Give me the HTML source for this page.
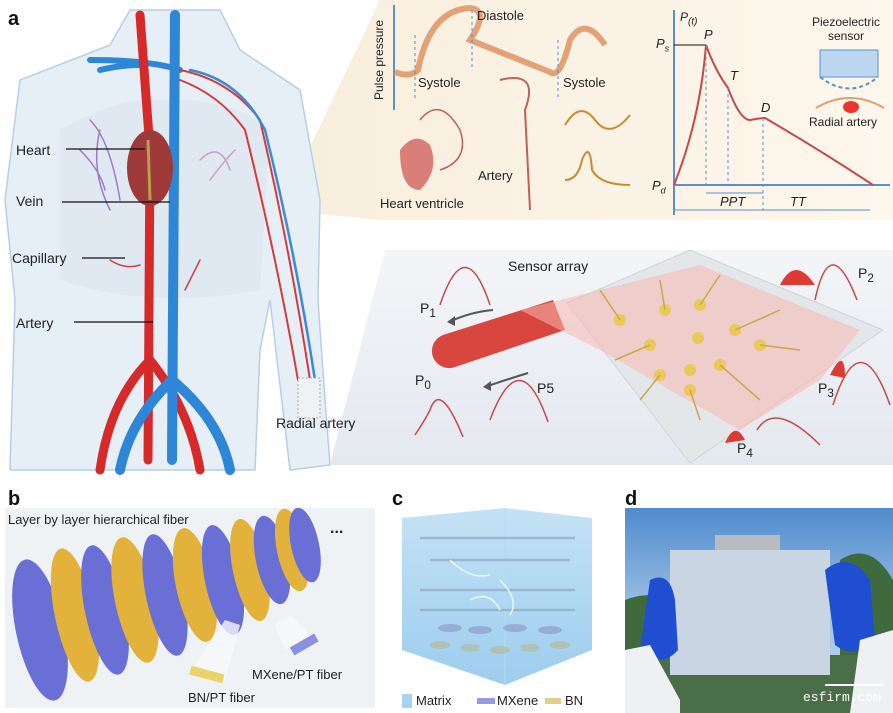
<!DOCTYPE html>
<html><head><style>
body{margin:0;background:#fff;width:893px;height:713px;overflow:hidden;position:relative;font-family:"Liberation Sans",sans-serif}
.t{position:absolute;color:#222;font-size:14px;white-space:nowrap}
.b{font-weight:bold;font-size:20px;color:#111}
</style></head><body>
<svg width="893" height="713" style="position:absolute;left:0;top:0">
<defs>
<linearGradient id="bg1" x1="0" y1="0" x2="1" y2="0"><stop offset="0" stop-color="#f7ecd9"/><stop offset="1" stop-color="#fdf6ea"/></linearGradient>
<linearGradient id="bg2" x1="0" y1="0" x2="0" y2="1"><stop offset="0" stop-color="#f4f5f8"/><stop offset="1" stop-color="#e4e8ef"/></linearGradient>
<linearGradient id="sky" x1="0" y1="0" x2="0" y2="1"><stop offset="0" stop-color="#4f8bcf"/><stop offset="0.5" stop-color="#9dc0e2"/><stop offset="1" stop-color="#c9dbeb"/></linearGradient>
<linearGradient id="cube" x1="0" y1="0" x2="0" y2="1"><stop offset="0" stop-color="#c4e2f5"/><stop offset="1" stop-color="#9dcdee"/></linearGradient>
</defs>
<path d="M280 210 L380 0 L893 0 L893 220 L380 220 Z" fill="url(#bg1)" opacity=".9"/>
<!-- body -->
<g fill="#e6eef6" stroke="#b7cfe6" stroke-width="1.5">
<path d="M10 470 L15 300 L5 200 L20 80 L110 45 L130 10 L220 10 L240 50 L300 90 L320 200 L318 300 L325 400 L330 465 L290 470 L270 300 L260 350 L255 470 Z"/>
</g>
<path d="M60 130 Q110 100 150 100 Q230 95 270 130 L260 290 Q150 310 60 280Z" fill="#dde7f0" opacity=".7"/>
<g fill="none" stroke-linecap="round">
<path d="M90 60 Q150 60 180 70 M100 70 Q120 65 140 65" stroke="#2d86d6" stroke-width="6"/>
<path d="M140 15 L150 150 L148 460 M150 360 Q110 400 100 470 M150 360 Q190 410 200 470" stroke="#d62a2a" stroke-width="9"/>
<path d="M175 15 L172 460 M172 380 Q130 420 120 470 M172 380 Q220 420 230 470" stroke="#2d86d6" stroke-width="10"/>
<path d="M180 70 Q230 80 260 120 Q290 250 310 380 M180 80 Q220 95 245 130 Q275 250 298 380" stroke="#d63a3a" stroke-width="2"/>
<path d="M190 70 Q240 80 265 130 Q295 250 315 380" stroke="#3a8ad6" stroke-width="2.5"/>
<path d="M90 120 Q110 140 120 200 M100 130 Q90 170 110 210 M80 150 Q100 170 105 190" stroke="#9b79c8" stroke-width="1.5"/>
<path d="M200 160 Q220 140 230 170 M210 180 Q225 160 235 150" stroke="#c8a0c8" stroke-width="1.5"/>
<path d="M110 260 Q125 270 140 265 M200 260 Q190 280 185 290" stroke="#d04040" stroke-width="1.5"/>
</g>
<ellipse cx="150" cy="168" rx="23" ry="38" fill="#9e3a3a"/>
<path d="M148 140 L150 200" stroke="#b9a04a" stroke-width="3"/>
<g stroke="#111" stroke-width="1.2"><line x1="66" y1="149" x2="145" y2="149"/><line x1="62" y1="202" x2="170" y2="202"/><line x1="82" y1="258" x2="125" y2="258"/><line x1="74" y1="322" x2="153" y2="322"/></g>
<rect x="298" y="378" width="22" height="40" fill="#eef2f4" stroke="#aaa" stroke-dasharray="2 2"/>
<line x1="394" y1="110" x2="394" y2="5" stroke="#5b8fd0" stroke-width="2"/>
<path d="M395 72 Q410 78 418 70 Q430 10 470 8 Q490 10 470 40 Q520 60 550 72 Q560 80 570 40 Q585 15 605 45" stroke="#e3a276" stroke-width="6" fill="none"/>
<path d="M415 35 V100 M472 10 V70 M558 40 V100" stroke="#5b8fd0" stroke-dasharray="3 3"/>
<line x1="674" y1="215" x2="674" y2="10" stroke="#5b8fd0" stroke-width="2"/>
<line x1="674" y1="185" x2="890" y2="185" stroke="#5b8fd0" stroke-width="2"/>
<path d="M674 185 Q700 120 706 45 Q715 70 728 88 Q740 120 750 120 Q760 118 765 118 Q820 150 873 185" stroke="#c84848" stroke-width="2" fill="none"/>
<line x1="674" y1="45" x2="706" y2="45" stroke="#111"/>
<path d="M706 45 V185 M728 88 V185 M763 118 V210" stroke="#5b8fd0" stroke-dasharray="3 3" fill="none"/>
<line x1="706" y1="193" x2="763" y2="193" stroke="#5b8fd0"/><line x1="674" y1="210" x2="870" y2="210" stroke="#5b8fd0"/>
<rect x="820" y="50" width="58" height="27" fill="#bcd7ef" stroke="#5b8fd0"/>
<path d="M820 77 Q850 100 878 77" stroke="#5b8fd0" stroke-dasharray="4 3" fill="none" stroke-width="2"/>
<path d="M816 108 Q850 88 884 108" stroke="#e0a070" fill="none" stroke-width="2"/>
<ellipse cx="851" cy="107" rx="8" ry="6" fill="#e33"/>
<path d="M400 150 Q415 130 430 145 Q440 170 420 190 Q400 190 400 150Z" fill="#d88078"/>
<path d="M420 120 Q440 95 460 130 Q470 160 440 170" stroke="#c0605a" fill="none" stroke-width="1.5"/>
<path d="M500 80 Q540 70 525 110 L530 210" stroke="#c0605a" fill="none" stroke-width="2"/>
<path d="M565 125 Q580 100 595 120 Q610 140 630 115" stroke="#cf8a2a" stroke-width="2" fill="none"/>
<path d="M565 180 Q578 180 582 160 Q590 140 592 170 Q600 185 630 185" stroke="#cf8a2a" stroke-width="2" fill="none"/>
<!-- sensor panel -->
<path d="M330 465 L385 250 L893 250 L893 465 Z" fill="url(#bg2)"/>
<path d="M567 303 L690 250 L883 330 L690 463 Z" fill="#e4e7ea" stroke="#d0d4d8"/>
<path d="M780 285 Q795 255 815 285Z M830 375 Q845 345 845 378Z M725 443 Q735 420 745 440Z" fill="#dd3a35"/>
<path d="M443 335 L553 300 L565 330 L455 367 A16 16 0 0 1 443 335Z" fill="#d9453f"/>
<path d="M520 310 L700 265 L860 330 L820 380 L740 430 L600 350 Z" fill="#f5b8b0" opacity=".55"/>
<g fill="#e9c95a"><circle cx="620" cy="320" r="6"/><circle cx="665" cy="310" r="6"/><circle cx="700" cy="305" r="6"/><circle cx="650" cy="345" r="6"/><circle cx="698" cy="338" r="6"/><circle cx="735" cy="330" r="6"/><circle cx="760" cy="345" r="6"/><circle cx="690" cy="370" r="6"/><circle cx="720" cy="365" r="6"/><circle cx="660" cy="375" r="6"/><circle cx="690" cy="390" r="6"/></g>
<g stroke="#c9a84a" stroke-width="1.5" fill="none"><path d="M620 320 L600 290 M665 310 L660 280 M700 305 L720 275 M735 330 L780 310 M760 345 L800 350 M720 365 L760 400 M690 390 L700 420 M660 375 L640 400 M650 345 L615 360"/></g>
<path d="M440 305 Q465 230 490 305 M815 300 Q830 230 857 300 M833 405 Q860 320 890 405 M757 430 Q775 400 820 445 M415 435 Q425 420 430 410 Q440 380 463 437 M490 420 Q520 340 548 422" stroke="#c84848" stroke-width="1.5" fill="none"/>
<path d="M493 310 Q470 312 449 322 M528 373 Q505 380 485 387" stroke="#555" stroke-width="2" fill="none"/>
<path d="M447 322 L455 316 L455 326Z M483 387 L491 381 L491 391Z" fill="#555"/>
<!-- panel b -->
<rect x="5" y="508" width="370" height="200" fill="#eef2f5"/>
<g>
<ellipse cx="40" cy="630" rx="24" ry="72" fill="#6a6fd6" transform="rotate(-12 40 630)"/>
<ellipse cx="75" cy="615" rx="20" ry="68" fill="#e2b23a" transform="rotate(-12 75 615)"/>
<ellipse cx="105" cy="610" rx="20" ry="66" fill="#6a6fd6" transform="rotate(-12 105 610)"/>
<ellipse cx="135" cy="600" rx="20" ry="64" fill="#e2b23a" transform="rotate(-12 135 600)"/>
<ellipse cx="165" cy="595" rx="19" ry="62" fill="#6a6fd6" transform="rotate(-12 165 595)"/>
<ellipse cx="195" cy="585" rx="19" ry="58" fill="#e2b23a" transform="rotate(-12 195 585)"/>
<ellipse cx="223" cy="580" rx="18" ry="56" fill="#6a6fd6" transform="rotate(-12 223 580)"/>
<ellipse cx="250" cy="570" rx="17" ry="52" fill="#e2b23a" transform="rotate(-12 250 570)"/>
<ellipse cx="272" cy="560" rx="16" ry="45" fill="#6a6fd6" transform="rotate(-12 272 560)"/>
<ellipse cx="292" cy="550" rx="15" ry="42" fill="#e2b23a" transform="rotate(-12 292 550)"/>
<ellipse cx="305" cy="545" rx="14" ry="38" fill="#6a6fd6" transform="rotate(-12 305 545)"/>
</g>
<path d="M195 665 L225 620 L240 625 L225 680Z M285 650 L275 625 L290 615 L315 640Z" fill="#f7f8fa" opacity=".8"/>
<rect x="190" y="670" width="34" height="9" fill="#ead36a" transform="rotate(15 207 674)"/>
<rect x="290" y="640" width="28" height="9" fill="#8a8fe0" transform="rotate(-30 304 644)"/>
<!-- c cube -->
<path d="M402 518 L505 508 L592 518 L592 650 L505 685 L402 650 Z" fill="url(#cube)"/>
<path d="M505 508 L505 685" stroke="#b6daf0"/>
<g stroke="#8aa0b8" stroke-width="2.5" opacity=".6"><line x1="420" y1="538" x2="575" y2="538"/><line x1="430" y1="560" x2="570" y2="560"/><line x1="420" y1="590" x2="575" y2="590"/><line x1="420" y1="610" x2="575" y2="610"/></g>
<g fill="#8c94c8" opacity=".6"><ellipse cx="450" cy="628" rx="12" ry="4"/><ellipse cx="480" cy="630" rx="12" ry="4"/><ellipse cx="515" cy="628" rx="12" ry="4"/><ellipse cx="550" cy="630" rx="12" ry="4"/></g>
<g fill="#b8b890" opacity=".6"><ellipse cx="440" cy="645" rx="10" ry="4"/><ellipse cx="470" cy="648" rx="10" ry="4"/><ellipse cx="500" cy="650" rx="10" ry="4"/><ellipse cx="530" cy="648" rx="10" ry="4"/><ellipse cx="560" cy="645" rx="10" ry="4"/></g>
<path d="M450 560 Q470 580 490 575 M500 580 Q520 600 510 615 M470 600 Q490 590 500 610" stroke="#eaf6ff" stroke-width="1.5" fill="none"/>
<rect x="402" y="694" width="10" height="14" fill="#a9d2ee"/><rect x="477" y="698" width="18" height="6" fill="#9a9ae0"/><rect x="545" y="698" width="16" height="6" fill="#e0d08a"/>
<!-- d photo -->
<rect x="625" y="508" width="268" height="205" fill="url(#sky)"/>
<rect x="715" y="535" width="65" height="25" fill="#b8bcc0"/>
<path d="M625 600 Q650 590 680 600 L680 713 L625 713Z M840 560 Q870 540 893 580 L893 713 L840 713Z" fill="#3f6a3e"/>
<rect x="625" y="655" width="268" height="58" fill="#4a6e48"/>
<rect x="670" y="550" width="160" height="125" fill="#c9d5e2"/>
<path d="M650 580 Q670 570 675 600 L678 650 Q660 670 640 650 Z" fill="#1f4fd0"/>
<path d="M825 570 Q850 550 870 580 L875 640 Q855 660 835 645 Z" fill="#1f4fd0"/>
<path d="M625 650 L650 645 L680 700 L680 713 L625 713Z" fill="#eef0f2"/>
<path d="M860 640 L893 630 L893 713 L850 713Z" fill="#eef0f2"/>
<rect x="825" y="684" width="58" height="2" fill="#fff"/>
</svg>
<div class="t b" style="left:8px;top:8px">a</div>
<div class="t b" style="left:8px;top:488px">b</div>
<div class="t b" style="left:392px;top:488px">c</div>
<div class="t b" style="left:625px;top:488px">d</div>
<div class="t" style="left:16px;top:142px">Heart</div>
<div class="t" style="left:16px;top:193px">Vein</div>
<div class="t" style="left:12px;top:250px">Capillary</div>
<div class="t" style="left:16px;top:315px">Artery</div>
<div class="t" style="left:276px;top:415px">Radial artery</div>
<div class="t" style="left:477px;top:8px;font-size:13px">Diastole</div>
<div class="t" style="left:418px;top:75px;font-size:13px">Systole</div>
<div class="t" style="left:563px;top:75px;font-size:13px">Systole</div>
<div class="t" style="left:372px;top:100px;font-size:12px;transform:rotate(-90deg);transform-origin:left top">Pulse pressure</div>
<div class="t" style="left:380px;top:196px;font-size:13px">Heart ventricle</div>
<div class="t" style="left:478px;top:168px;font-size:13px">Artery</div>
<div class="t" style="left:680px;top:10px;font-size:12px;font-style:italic">P<sub>(t)</sub></div>
<div class="t" style="left:704px;top:27px;font-size:13px;font-style:italic">P</div>
<div class="t" style="left:656px;top:36px;font-size:13px;font-style:italic">P<sub style="font-size:9px">s</sub></div>
<div class="t" style="left:730px;top:68px;font-size:13px;font-style:italic">T</div>
<div class="t" style="left:761px;top:100px;font-size:13px;font-style:italic">D</div>
<div class="t" style="left:652px;top:178px;font-size:13px;font-style:italic">P<sub style="font-size:9px">d</sub></div>
<div class="t" style="left:720px;top:194px;font-size:13px;font-style:italic">PPT</div>
<div class="t" style="left:790px;top:194px;font-size:13px;font-style:italic">TT</div>
<div class="t" style="left:812px;top:15px;font-size:12px;text-align:center">Piezoelectric<br>sensor</div>
<div class="t" style="left:809px;top:115px;font-size:12px">Radial artery</div>
<div class="t" style="left:508px;top:258px">Sensor array</div>
<div class="t" style="left:420px;top:300px">P<sub>1</sub></div>
<div class="t" style="left:858px;top:265px">P<sub>2</sub></div>
<div class="t" style="left:818px;top:380px">P<sub>3</sub></div>
<div class="t" style="left:737px;top:440px">P<sub>4</sub></div>
<div class="t" style="left:415px;top:372px">P<sub>0</sub></div>
<div class="t" style="left:537px;top:380px">P5</div>
<div class="t" style="left:8px;top:512px;font-size:13px">Layer by layer hierarchical fiber</div>
<div class="t" style="left:330px;top:520px;font-size:16px;font-weight:bold">...</div>
<div class="t" style="left:188px;top:690px;font-size:13px">BN/PT fiber</div>
<div class="t" style="left:252px;top:667px;font-size:13px">MXene/PT fiber</div>
<div class="t" style="left:416px;top:693px;font-size:13px">Matrix</div>
<div class="t" style="left:497px;top:693px;font-size:13px">MXene</div>
<div class="t" style="left:565px;top:693px;font-size:13px">BN</div>
<div class="t" style="left:803px;top:690px;font-size:13px;color:#fff;font-family:'Liberation Mono',monospace">esfirm.com</div>
</body></html>
